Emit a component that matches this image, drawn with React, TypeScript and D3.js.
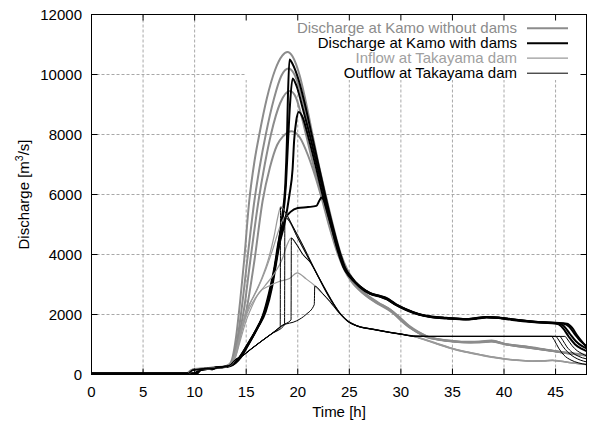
import React from "react";
import * as d3 from "d3";

type Pt = [number, number];

const xTicks = [0, 5, 10, 15, 20, 25, 30, 35, 40, 45];
const yTicks = [0, 2000, 4000, 6000, 8000, 10000, 12000];
const legendLabels = [
  "Discharge at Kamo without dams",
  "Discharge at Kamo with dams",
  "Inflow at Takayama dam",
  "Outflow at Takayama dam",
];

// Discharge at Kamo without dams (ensemble members)
const kamoNoDam1: Pt[] = [[0,30],[9.2,30],[9.6,130],[10,180],[11,210],[12,240],[13,280],[13.4,350],[13.7,600],[14.0,1200],[14.4,2400],[14.8,3800],[15.3,5800],[15.8,7100],[16.3,8050],[17,9200],[17.8,10150],[18.5,10630],[19,10750],[19.5,10600],[20.2,9950],[20.9,8900],[21.4,8050],[22,7050],[22.7,6000],[23.4,5000],[24.2,4000],[24.8,3500],[25.5,3100],[26.6,2680],[27.8,2400],[28.9,2170],[30,1850],[30.8,1600],[31.6,1400],[32.4,1260],[33.5,1170],[35,1110],[36.5,1080],[37.6,1080],[38.7,1110],[39.5,1060],[40.2,1010],[42,930],[43.5,850],[44.7,790],[46,720],[47,680],[48,640]];
const kamoNoDam2: Pt[] = [[0,35],[9.3,35],[9.7,140],[10.1,170],[11,200],[12,230],[13,270],[13.5,350],[13.8,600],[14.2,1300],[14.6,2300],[15.1,3800],[15.8,5800],[16.3,6900],[16.9,8000],[17.7,9200],[18.4,9950],[19.1,10200],[19.6,10050],[20.2,9500],[20.6,8950],[21.2,8050],[21.9,7000],[22.55,6000],[23.3,5000],[24.1,4000],[24.7,3500],[25.4,3100],[26.5,2700],[27.8,2380],[29,2130],[30,1800],[30.9,1550],[31.8,1380],[32.6,1250],[34,1150],[35.2,1100],[36.8,1070],[37.8,1090],[38.9,1120],[40.3,1000],[42,920],[44.8,780],[46.2,710],[48,630]];
const kamoNoDam3: Pt[] = [[0,25],[9.4,25],[9.8,150],[10.3,170],[11,190],[12,220],[13,260],[13.6,380],[13.9,650],[14.3,1300],[14.8,2200],[15.4,3800],[16.2,5800],[16.8,7000],[17.4,8000],[18.3,9050],[19.25,9450],[19.8,9250],[20.3,8700],[20.8,8000],[21.5,7000],[22.3,6000],[23.1,5000],[24.0,4000],[24.6,3500],[25.3,3100],[26.4,2700],[27.6,2400],[28.9,2180],[29.9,1900],[30.8,1620],[31.7,1420],[32.5,1280],[33.8,1170],[35,1120],[36.6,1090],[37.7,1100],[38.8,1130],[40.1,1020],[42,940],[44.6,800],[46,730],[48,650]];
const kamoNoDam4: Pt[] = [[0,30],[9.3,30],[9.7,130],[10.2,175],[11,195],[12,225],[13,265],[13.7,400],[14.0,700],[14.4,1300],[15.0,2100],[15.8,3800],[16.6,5800],[17.3,6900],[18,7650],[18.6,7950],[19.4,8110],[20.2,7900],[21,7300],[21.7,6600],[22.3,5900],[23.0,5000],[23.9,4000],[24.5,3500],[25.2,3100],[26.4,2680],[27.7,2370],[28.8,2150],[29.9,1870],[30.8,1590],[31.7,1400],[32.5,1270],[33.8,1160],[35,1100],[36.6,1070],[37.6,1070],[38.8,1100],[40.2,1000],[42,910],[44.7,780],[46,715],[48,630]];

// Discharge at Kamo with dams
const kamoDam1: Pt[] = [[0,30],[10.0,30],[10.4,150],[11,190],[11.8,210],[12.5,240],[13.3,280],[13.9,380],[14.4,560],[15.2,1000],[16.0,1500],[16.7,2000],[17.3,2750],[17.8,3600],[18.2,4500],[18.5,5300],[18.8,6400],[18.95,7800],[19.05,9300],[19.2,10500],[19.5,10350],[20.1,9800],[20.7,9000],[21.35,8000],[22.0,7000],[22.65,6000],[23.35,5000],[24.15,4000],[24.6,3550],[25.2,3250],[26,2950],[27,2720],[28,2620],[28.6,2550],[29.5,2350],[30.5,2180],[31.8,2010],[33,1930],[34.4,1890],[36.3,1850],[37.3,1880],[38.3,1920],[39.5,1900],[40.8,1840],[43,1760],[45.3,1700],[45.8,1620],[46.4,1350],[47,1100],[47.5,960],[48,870]];
const kamoDam2: Pt[] = [[0,25],[10.1,25],[10.5,140],[11.2,180],[11.9,200],[12.1,240],[13,260],[13.8,360],[14.3,540],[15.1,980],[15.9,1450],[16.6,1950],[17.2,2700],[17.7,3500],[18.1,4350],[18.5,5100],[18.85,6300],[19.05,7700],[19.25,9000],[19.5,9870],[19.9,9600],[20.5,8850],[21.15,8000],[21.85,7000],[22.55,6000],[23.3,5000],[24.1,4000],[24.55,3550],[25.15,3250],[26,2930],[27,2700],[28,2600],[28.6,2520],[29.5,2330],[30.5,2160],[31.8,2000],[33,1920],[34.4,1880],[36.3,1840],[37.3,1870],[38.3,1910],[39.5,1890],[40.8,1830],[43,1750],[45.8,1690],[46.3,1600],[46.9,1330],[47.4,1120],[48,950]];
const kamoDam3: Pt[] = [[0,30],[10.2,30],[10.6,150],[11.5,190],[12.5,230],[13.4,270],[14.0,390],[14.5,580],[15.3,1050],[16.1,1550],[16.9,2100],[17.5,2900],[17.9,3700],[18.2,4300],[18.7,5000],[19.2,6000],[19.5,6850],[19.65,7800],[19.85,8450],[20.1,8750],[20.5,8550],[21.0,7950],[21.7,7000],[22.4,6000],[23.2,5000],[24.05,4000],[24.5,3550],[25.1,3250],[26,2920],[27,2690],[28,2590],[28.6,2510],[29.5,2320],[30.5,2150],[31.8,1990],[33,1910],[34.4,1870],[36.3,1830],[37.3,1860],[38.3,1900],[39.5,1880],[40.8,1820],[43,1740],[45.2,1680],[45.7,1550],[46.3,1250],[46.9,1000],[47.5,860],[48,780]];
const kamoDam4: Pt[] = [[0,35],[10.0,35],[10.5,160],[11.3,190],[11.7,170],[12,230],[13,260],[13.8,350],[14.4,600],[15.4,1150],[16.3,1700],[17.0,2300],[17.6,3200],[18.0,4000],[18.4,4700],[18.8,5200],[19.3,5420],[20.0,5550],[21.0,5580],[21.8,5620],[22.1,5800],[22.3,5900],[22.55,5800],[23.1,5150],[23.9,4100],[24.4,3600],[25.0,3270],[26,2940],[27,2710],[28,2610],[28.6,2540],[29.5,2340],[30.5,2170],[31.8,2000],[33,1920],[34.4,1880],[36.3,1845],[37.3,1875],[38.3,1915],[39.5,1895],[40.8,1835],[43,1755],[46.1,1690],[46.6,1560],[47.1,1300],[47.6,1080],[48,920]];

// Inflow at Takayama dam
const inflow1: Pt[] = [[0,20],[9.3,20],[9.7,140],[10.5,180],[11.5,200],[12.5,230],[13.3,290],[13.7,450],[14.1,900],[14.5,1500],[15,2100],[15.7,2600],[16.5,3200],[17.2,3900],[17.7,4600],[18.1,5300],[18.35,5600],[18.7,5450],[19.5,4950],[20.5,4300],[21.5,3600],[22.5,2950],[23.5,2350],[24.2,2000],[24.8,1780],[25.7,1620],[27.3,1500],[28.9,1400],[30.2,1330],[31.2,1270],[32.3,1160],[33.5,1020],[34.7,890],[36,770],[37.6,660],[39,570],[40.2,510],[41.5,470],[42.8,445],[43.8,450],[44.7,470],[45.5,440],[46.5,390],[48,330]];
const inflow2: Pt[] = [[0,25],[9.4,25],[9.8,150],[10.6,180],[11.6,210],[12.6,240],[13.4,300],[13.8,480],[14.2,950],[14.7,1700],[15.3,2300],[16.1,2850],[16.9,3500],[17.6,4200],[18.2,4850],[18.75,5250],[19.1,5150],[20,4550],[21,3900],[22,3250],[23,2600],[24,2080],[24.8,1800],[25.7,1630],[27.3,1510],[28.9,1410],[30.2,1340],[31.2,1280],[32.3,1170],[33.5,1030],[34.7,900],[36,780],[37.6,670],[39,580],[40.2,515],[41.5,475],[42.8,450],[43.8,455],[44.7,475],[45.5,445],[46.5,395],[48,335]];
const inflow3: Pt[] = [[0,20],[9.3,20],[9.7,130],[10.5,170],[11.5,195],[12.5,225],[13.3,285],[13.8,470],[14.2,900],[14.6,1500],[15.1,2050],[15.8,2500],[16.8,2950],[17.8,3400],[18.5,3850],[19.0,4350],[19.35,4550],[19.8,4380],[20.5,4000],[21.3,3700],[22,3250],[23,2620],[24,2070],[24.8,1790],[25.7,1625],[27.3,1505],[28.9,1405],[30.2,1335],[31.2,1275],[32.3,1150],[33.5,1010],[34.7,880],[36,760],[37.6,650],[39,560],[40.2,500],[41.5,460],[42.8,440],[43.8,445],[44.7,465],[45.5,435],[46.5,385],[48,325]];
const inflow4: Pt[] = [[0,25],[9.4,25],[9.8,140],[10.6,175],[11.6,205],[12.6,235],[13.4,300],[13.9,500],[14.4,1100],[15,1800],[15.6,2300],[16.3,2750],[17.2,2950],[18.2,3100],[19.2,3200],[19.95,3390],[20.8,3190],[21.7,2943],[22.4,2700],[23.1,2440],[23.9,2100],[24.7,1820],[25.7,1630],[27.3,1510],[28.9,1405],[30.2,1335],[31.2,1280],[32.3,1175],[33.5,1040],[34.7,905],[36,785],[37.6,675],[39,585],[40.2,520],[41.5,480],[42.8,455],[43.8,460],[44.7,480],[45.5,450],[46.5,400],[48,340]];

// Outflow at Takayama dam
const outflow1: Pt[] = [[0,20],[9.3,20],[9.7,140],[10.5,180],[11.5,200],[11.8,170],[12.1,240],[13,270],[13.5,330],[13.8,450],[14.1,530],[14.5,600],[15.5,860],[16.5,1120],[17.5,1370],[18.3,1580],[18.33,5560],[18.7,5450],[19.5,4950],[20.5,4300],[21.5,3600],[22.5,2950],[23.5,2350],[24.2,2000],[24.8,1780],[25.7,1620],[27.3,1500],[28.9,1400],[30.2,1330],[31.2,1275],[32.5,1270],[44.6,1270],[44.9,1130],[45.3,880],[45.8,650],[46.5,480],[47.2,390],[48,330]];
const outflow2: Pt[] = [[0,25],[9.4,25],[9.8,150],[10.6,180],[11.6,210],[12,200],[12.3,245],[13.4,300],[13.8,440],[14.2,540],[14.6,610],[15.5,850],[16.5,1110],[17.5,1360],[18.72,1660],[18.75,5250],[19.1,5150],[20,4550],[21,3900],[22,3250],[23,2600],[24,2080],[24.8,1800],[25.7,1630],[27.3,1510],[28.9,1410],[30.2,1340],[31.2,1280],[32.5,1272],[45.0,1272],[45.3,1150],[45.7,940],[46.2,740],[46.8,580],[47.4,480],[48,420]];
const outflow3: Pt[] = [[0,20],[9.3,20],[9.7,130],[10.5,170],[11.5,195],[12.5,225],[13.3,285],[13.8,450],[14.2,550],[14.6,620],[15.5,860],[16.5,1120],[17.5,1370],[18.5,1640],[19.35,1820],[19.38,4550],[19.8,4380],[20.5,4000],[21.3,3700],[22,3250],[23,2620],[24,2070],[24.8,1790],[25.7,1625],[27.3,1505],[28.9,1405],[30.2,1335],[31.2,1275],[32.5,1268],[45.4,1268],[45.7,1140],[46.1,920],[46.6,740],[47.2,610],[48,520]];
const outflow4: Pt[] = [[0,25],[9.4,25],[9.8,140],[10.6,175],[11.6,205],[12.6,235],[13.4,300],[13.8,440],[14.2,540],[14.6,610],[15.5,855],[16.5,1115],[17.5,1365],[18.5,1630],[19.9,1790],[20.8,2000],[21.6,2330],[21.65,2943],[22.4,2700],[23.1,2440],[23.9,2100],[24.7,1820],[25.7,1630],[27.3,1510],[28.9,1405],[30.2,1335],[31.2,1280],[32.5,1270],[45.9,1270],[46.2,1150],[46.6,960],[47.1,790],[47.6,690],[48,620]];

const seriesDefs = [
  { members: [kamoNoDam1, kamoNoDam2, kamoNoDam3, kamoNoDam4], color: "#8c8c8c", width: 2, text: "#8c8c8c" },
  { members: [kamoDam1, kamoDam2, kamoDam3, kamoDam4], color: "#000000", width: 2, text: "#000000" },
  { members: [inflow1, inflow2, inflow3, inflow4], color: "#9a9a9a", width: 1.2, text: "#a0a0a0" },
  { members: [outflow1, outflow2, outflow3, outflow4], color: "#000000", width: 1, text: "#000000" },
];

const W = 589;
const H = 428;
const FONT = "'Liberation Sans', Arial, Helvetica, sans-serif";

export default function App() {
  const x = d3.scaleLinear().domain([0, 48]).range([91.5, 586.5]);
  const y = d3.scaleLinear().domain([0, 12000]).range([374.5, 14.5]);
  const line = d3
    .line<Pt>()
    .x((d) => x(d[0]))
    .y((d) => y(d[1]))
    .curve(d3.curveMonotoneX);

  const x0 = x(0), x1 = x(48), yTop = y(12000), yBot = y(0);
  const tick = 6;
  const gridColor = "#a8a8a8";
  const keyLeft = 245;
  const keyBottom = 79.5;
  const legendTextX = 517;
  const legendLineX0 = 527;
  const legendLineX1 = 568;
  const legendBase = [33.4, 48.4, 63.4, 78.4];

  return (
    <div style={{ position: "absolute", left: 0, top: 0 }}>
      <svg width={W} height={H} xmlns="http://www.w3.org/2000/svg" style={{ display: "block", background: "#fff" }} fontFamily={FONT}>
        <defs>
          <clipPath id="plotclip">
            <rect x={x0} y={yTop} width={x1 - x0} height={yBot - yTop} />
          </clipPath>
        </defs>
        <rect x={0} y={0} width={W} height={H} fill="#fff" />
        {/* grid */}
        <g stroke={gridColor} strokeWidth={1} strokeDasharray="3,2">
          {xTicks.filter((t) => t > 0).map((t) => (
            <line key={"gx" + t} x1={x(t)} x2={x(t)} y1={yTop} y2={yBot} />
          ))}
          {yTicks.filter((t) => t > 0 && t < 12000).map((t) => (
            <line key={"gy" + t} x1={x0} x2={x1} y1={y(t)} y2={y(t)} />
          ))}
        </g>
        {/* opaque key box */}
        <rect x={keyLeft} y={yTop + 0.5} width={x1 - keyLeft - 0.5} height={keyBottom - yTop} fill="#fff" />
        {/* data */}
        <g clipPath="url(#plotclip)" fill="none" strokeLinejoin="round" strokeLinecap="round">
          {seriesDefs.map((s, si) =>
            s.members.map((m, mi) => (
              <path key={si + "-" + mi} d={line(m) || ""} stroke={s.color} strokeWidth={s.width} />
            ))
          )}
        </g>
        {/* border */}
        <rect x={x0} y={yTop} width={x1 - x0} height={yBot - yTop} fill="none" stroke="#000" strokeWidth={1} />
        {/* ticks */}
        <g stroke="#000" strokeWidth={1}>
          {xTicks.map((t) => (
            <g key={"tx" + t}>
              <line x1={x(t)} x2={x(t)} y1={yBot} y2={yBot - tick} />
              <line x1={x(t)} x2={x(t)} y1={yTop} y2={yTop + tick} />
            </g>
          ))}
          {yTicks.map((t) => (
            <g key={"ty" + t}>
              <line x1={x0} x2={x0 + tick} y1={y(t)} y2={y(t)} />
              <line x1={x1} x2={x1 - tick} y1={y(t)} y2={y(t)} />
            </g>
          ))}
        </g>
        {/* tick labels */}
        <g fontSize={15} fill="#000">
          {xTicks.map((t) => (
            <text key={"lx" + t} x={x(t)} y={397} textAnchor="middle">{t}</text>
          ))}
          {yTicks.map((t) => (
            <text key={"ly" + t} x={82} y={y(t) + 5.3} textAnchor="end">{t}</text>
          ))}
        </g>
        {/* axis titles */}
        <text x={(x0 + x1) / 2} y={417} textAnchor="middle" fontSize={15} fill="#000">Time [h]</text>
        <text transform={`translate(28.5,${(yTop + yBot) / 2}) rotate(-90)`} textAnchor="middle" fontSize={15} fill="#000">
          Discharge [m<tspan fontSize={10.5} dy={-6}>3</tspan><tspan dy={6}>/s]</tspan>
        </text>
        {/* legend */}
        <g fontSize={15}>
          {seriesDefs.map((s, i) => (
            <g key={"lg" + i}>
              <text x={legendTextX} y={legendBase[i]} textAnchor="end" fill={s.text}>{legendLabels[i]}</text>
              <line x1={legendLineX0} x2={legendLineX1} y1={legendBase[i] - 5.2} y2={legendBase[i] - 5.2} stroke={s.color} strokeWidth={s.width} />
            </g>
          ))}
        </g>
      </svg>
    </div>
  );
}
